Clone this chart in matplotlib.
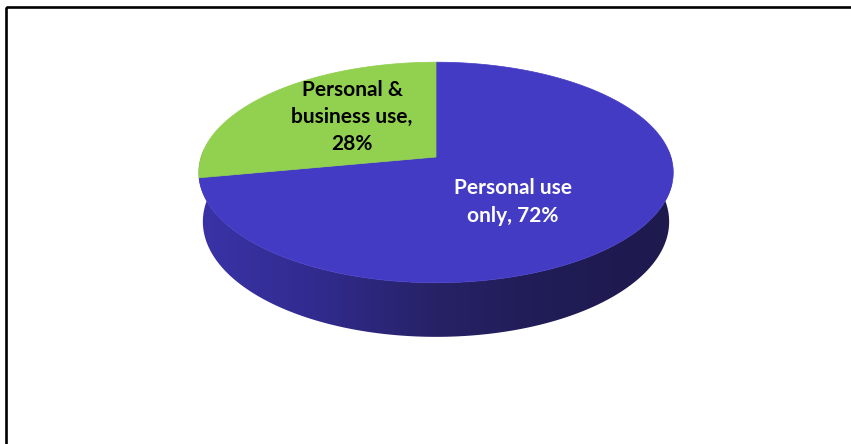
import numpy as np
import matplotlib.pyplot as plt
from matplotlib.patches import Polygon, Rectangle
from matplotlib.colors import LinearSegmentedColormap

# Survey split
labels = ["Personal use\nonly", "Personal &\nbusiness use"]
shares = [72, 28]
top_colors = ["#443BC4", "#92D050"]
text_colors = ["white", "black"]
label_pos = [(513, 202), (352, 117)]

# perspective camera for the 3D pie (pixel space)
cx, cy = 436, 157
elev = np.radians(27.4)
dist, focal, depth = 6.33, 1487, 0.238


def project(X, Y, Z):
    s, c = np.sin(elev), np.cos(elev)
    yc = Y * s + Z * c
    zc = Y * c - Z * s + dist
    return cx + focal * X / zc, cy - focal * yc / zc


fig = plt.figure(figsize=(8.51, 4.44), dpi=100)
ax = fig.add_axes([0, 0, 1, 1])
ax.set_xlim(0, 851)
ax.set_ylim(444, 0)
ax.axis("off")

# side wall: outline of the front half, filled with a left-to-right gradient
a = np.linspace(np.pi - 0.3, 2 * np.pi + 0.3, 400)
ut, vt = project(np.cos(a), np.sin(a), np.zeros_like(a))
ub, vb = project(np.cos(a), np.sin(a), np.full_like(a, -depth))
wall = Polygon(np.column_stack([np.r_[ut, ub[::-1]], np.r_[vt, vb[::-1]]]),
               closed=True, fc="none", ec="none")
ax.add_patch(wall)
side_cmap = LinearSegmentedColormap.from_list(
    "side", ["#3A33A8", "#312B8E", "#272266", "#201C55", "#1E1A4E"])
grad = np.linspace(0, 1, 256)[None, :]
img = ax.imshow(grad, cmap=side_cmap, extent=(198, 672, 345, 150),
                aspect="auto", interpolation="bilinear")
img.set_clip_path(wall)

# top face, clockwise from 12 o'clock
bounds = 90 - 360 * np.cumsum([0] + shares) / sum(shares)
for i in range(len(shares)):
    a = np.radians(np.linspace(bounds[i], bounds[i + 1], 300))
    X = np.concatenate([[0], np.cos(a)])
    Y = np.concatenate([[0], np.sin(a)])
    u, v = project(X, Y, np.zeros_like(X))
    ax.add_patch(Polygon(np.column_stack([u, v]), closed=True,
                         fc=top_colors[i], ec=top_colors[i], lw=0.5))

for lab, val, col, (x, y) in zip(labels, shares, text_colors, label_pos):
    ax.text(x, y, f"{lab}, {val}%" if "only" in lab else f"{lab},\n{val}%",
            ha="center", va="center", color=col, fontsize=15,
            fontweight="bold", family=["Lato", "DejaVu Sans"],
            linespacing=1.45)

# chart border
ax.add_patch(Rectangle((5.5, 7), 900, 500, fill=False, ec="black", lw=1.9))

fig.savefig("out.png", dpi=100)
